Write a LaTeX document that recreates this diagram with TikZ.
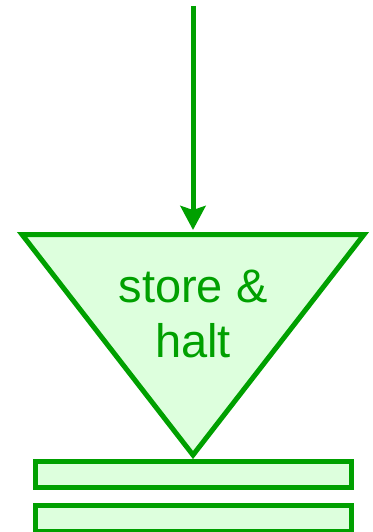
\documentclass[tikz,border=0pt]{standalone}
\usepackage{fontspec}
\setmainfont{Liberation Sans}
\usetikzlibrary{arrows.meta}

\definecolor{haltgreen}{RGB}{0,160,0}
\definecolor{haltfill}{RGB}{221,255,221}

\tikzset{
  flowline/.style={draw=haltgreen, line width=5pt},
  haltbar/.style={flowline, fill=haltfill, rectangle, inner sep=0pt,
    minimum width=316pt, minimum height=26pt},
}

\begin{document}
\begin{tikzpicture}[x=1pt,y=-1pt]
\useasboundingbox (0,0) rectangle (372,532);

\coordinate (src) at (193,6);
\coordinate (tl) at (22,234.5);
\coordinate (tr) at (364,234.5);
\coordinate (tip) at (193,455);
\coordinate (top) at (193,230);

\filldraw[flowline, fill=haltfill, line join=miter] (tl)--(tr)--(tip)--cycle;

\node[text=haltgreen, align=center, font=\fontsize{47}{55}\selectfont]
  (halt) at (193,314) {store \&\\halt};

\node[haltbar] (bar1) at (193,474.5) {};
\node[haltbar] (bar2) at (193,518) {};

\draw[flowline, -{Stealth[length=24pt,width=25pt,inset=4pt]}] (src) -- (top);
\end{tikzpicture}
\end{document}
